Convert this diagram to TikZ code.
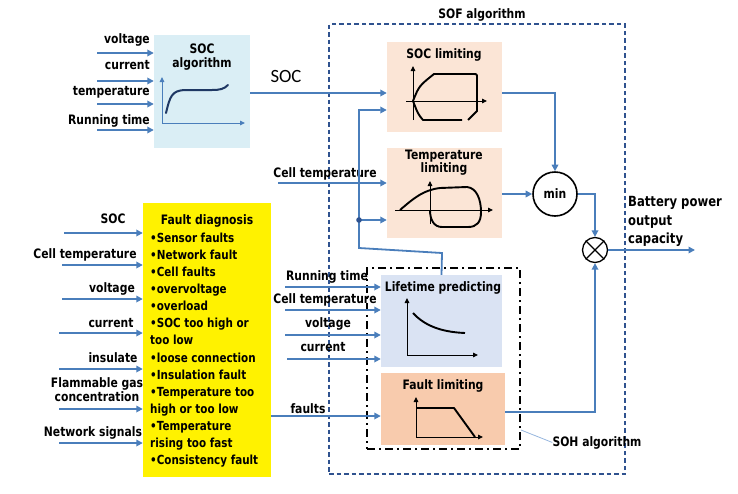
\documentclass[tikz,border=0pt]{standalone}
\usepackage{fontspec}
\setmainfont{DejaVu Sans}[FakeStretch=0.83]
\newfontfamily\calib{Carlito}
\usetikzlibrary{arrows.meta}
\definecolor{ablue}{RGB}{74,126,187}
\definecolor{sofblue}{RGB}{47,82,143}
\definecolor{socbox}{RGB}{218,238,245}
\definecolor{peach}{RGB}{251,229,214}
\definecolor{lifebox}{RGB}{218,227,243}
\definecolor{faultbox}{RGB}{248,203,173}
\definecolor{navy}{RGB}{31,56,100}
\definecolor{pointer}{RGB}{150,182,222}
\begin{document}
\begin{tikzpicture}[x=1pt,y=-1pt,
  lbl/.style={font=\bfseries\fontsize{13}{14}\selectfont, inner sep=0pt},
  fdl/.style={font=\bfseries\fontsize{12.5}{14}\selectfont, inner sep=0pt, anchor=base west},
  box/.style={inner sep=0pt, draw=none},
  arr/.style={draw=ablue, line width=1.8pt, -{Triangle[length=6.5pt,width=6.5pt]}},
  axb/.style={draw=ablue, line width=1pt, -{Triangle[length=5pt,width=4.5pt]}},
  axk/.style={draw=black, line width=0.9pt, -{Triangle[length=5pt,width=4.5pt]}},
  curvek/.style={draw=black, line width=1.9pt, line join=round},
]
\useasboundingbox (0,0) rectangle (738,493);

% ---------- boxes ----------
\node[box, fill=socbox, minimum width=96pt, minimum height=113pt] (socalg) at (202,91.5) {};
\node[box, fill=peach, minimum width=115pt, minimum height=90pt] (soclim) at (444.5,87) {};
\node[box, fill=peach, minimum width=115pt, minimum height=90pt] (templim) at (444.5,193) {};
\node[box, fill=lifebox, minimum width=121pt, minimum height=92pt] (life) at (441.5,321) {};
\node[box, fill=faultbox, minimum width=124pt, minimum height=72pt] (faultlim) at (443,409) {};
\node[box, fill=yellow, minimum width=128pt, minimum height=274pt] (fd) at (207,340) {};

\node[draw=sofblue, line width=1.5pt, dash pattern=on 4.5pt off 3pt, minimum width=296pt, minimum height=450pt, inner sep=0pt] (sof) at (477,249) {};
\node[draw=black, line width=1.8pt, dash pattern=on 8pt off 4pt on 2pt off 4pt, minimum width=153pt, minimum height=181pt, inner sep=0pt] (soh) at (443.5,358.5) {};

\node[circle, draw, line width=1.6pt, minimum size=44pt, inner sep=0pt, font=\bfseries\fontsize{13}{14}\selectfont] (min) at (555,194) {min};
\node[circle, draw, line width=1.3pt, minimum size=25pt, inner sep=0pt] (ot) at (595,250) {};
\draw[line width=1.1pt] (ot.north west) -- (ot.south east) (ot.north east) -- (ot.south west);

% ---------- titles ----------
\node[lbl, anchor=base] (t1a) at (202,53) {SOC};
\node[lbl, anchor=base] (t1b) at (202,67) {algorithm};
\node[lbl, anchor=base] (tsof) at (482,18) {SOF algorithm};
\node[lbl, anchor=base] (t2) at (444,58) {SOC limiting};
\node[lbl, anchor=base] (t3a) at (444,159) {Temperature};
\node[lbl, anchor=base] (t3b) at (444,172) {limiting};
\node[lbl, anchor=base] (t4) at (443,291) {Lifetime predicting};
\node[lbl, anchor=base] (t5) at (443,389) {Fault limiting};
\node[lbl, anchor=base] (tsoh) at (597,446) {SOH algorithm};
\node[inner sep=0pt, font=\calib\fontsize{18.7}{20}\selectfont] (socl) at (286,76) {SOC};
\node[font=\bfseries\fontsize{14}{16}\selectfont, inner sep=0pt, anchor=base west] (bat1) at (628,206) {Battery power};
\node[font=\bfseries\fontsize{14}{16}\selectfont, inner sep=0pt, anchor=base west] (bat2) at (628,225) {output};
\node[font=\bfseries\fontsize{14}{16}\selectfont, inner sep=0pt, anchor=base west] (bat3) at (628,243) {capacity};

% ---------- SOC algorithm inputs ----------
\node[lbl, anchor=base east] (a1) at (150,43) {voltage};
\node[lbl, anchor=base east] (a2) at (150,69) {current};
\node[lbl, anchor=base east] (a3) at (150,95) {temperature};
\node[lbl, anchor=base east] (a4) at (150,124) {Running time};
\coordinate (ia1) at (97,53);
\coordinate (ia2) at (97,81);
\coordinate (ia3) at (97,104);
\coordinate (ia4) at (97,130);
\foreach \c in {ia1,ia2,ia3,ia4} \draw[arr] (\c) -- (socalg.west |- \c);

% ---------- SOF connections ----------
\coordinate (socy) at (0,93);
\draw[arr] (socalg.east |- socy) -- (soclim.west |- socy);
\node[lbl, anchor=base] (ct1) at (325,177) {Cell temperature};
\coordinate (ict) at (278,183);
\draw[arr] (ict) -- (templim.west |- ict);

\coordinate (fb1) at (442,253);
\coordinate (fb2) at (359,248);
\coordinate (fbtop) at (359,110);
\coordinate (fbdot) at (359,220);
\draw[arr] (life.north) -- (fb1) -- (fb2) -- (fbtop) -- (soclim.west |- fbtop);
\draw[arr] (fbdot) -- (templim.west |- fbdot);
\fill[sofblue] (fbdot) circle (2.8pt);

\draw[arr] (soclim.east |- socy) -- (min.north |- socy) -- (min.north);
\draw[arr] (templim.east |- min.west) -- (min.west);
\draw[arr] (min.east) -- (ot.north |- min.east) -- (ot.north);
\coordinate (outp) at (695,250);
\draw[arr] (ot.east) -- (outp);
\coordinate (flo) at (0,412);
\draw[arr] (faultlim.east |- flo) -- (ot.south |- flo) -- (ot.south);

% ---------- Lifetime inputs ----------
\node[lbl, anchor=base] (b1) at (327,280) {Running time};
\node[lbl, anchor=base] (b2) at (325,303) {Cell temperature};
\node[lbl, anchor=base] (b3) at (328,327) {voltage};
\node[lbl, anchor=base] (b4) at (323,351) {current};
\coordinate (ib1) at (285,287);
\coordinate (ib2) at (285,310);
\coordinate (ib3) at (285,335);
\coordinate (ib4) at (287,359);
\foreach \c in {ib1,ib2,ib3,ib4} \draw[arr] (\c) -- (life.west |- \c);

% faults
\node[lbl, anchor=base] (flt) at (308,413) {faults};
\coordinate (fy) at (0,416);
\draw[arr] (fd.east |- fy) -- (faultlim.west |- fy);

% SOH pointer
\coordinate (sohp) at (521,430);
\draw[draw=pointer, line width=0.8pt] (sohp) -- (tsoh.west);

% ---------- Fault diagnosis ----------
\node[lbl, anchor=base] (fdt) at (207,224) {Fault diagnosis};
\foreach \t [count=\i] in {•Sensor faults, •Network fault, •Cell faults, •overvoltage, •overload, •SOC too high or, too low, •loose connection, •Insulation fault, •Temperature too, high or too low, •Temperature, rising too fast, •Consistency fault}
  \node[fdl] (fdl\i) at (150,{242+17.15*(\i-1)}) {\t};

\node[lbl, anchor=base] (c1) at (113,223) {SOC};
\node[lbl, anchor=base] (c2) at (85,258) {Cell temperature};
\node[lbl, anchor=base] (c3) at (112,292) {voltage};
\node[lbl, anchor=base] (c4) at (111,327) {current};
\node[lbl, anchor=base] (c5) at (113,362) {insulate};
\node[lbl, anchor=base] (c6a) at (97,387) {Flammable gas};
\node[lbl, anchor=base] (c6b) at (97,401) {concentration};
\node[lbl, anchor=base] (c7) at (93,436) {Network signals};
\coordinate (ic1) at (64,233);
\coordinate (ic2) at (62,265);
\coordinate (ic3) at (62,299);
\coordinate (ic4) at (59,333);
\coordinate (ic5) at (59,369);
\coordinate (ic6) at (59,409);
\coordinate (ic7) at (59,443);
\foreach \c in {ic1,ic2,ic3,ic4,ic5,ic6,ic7} \draw[arr] (\c) -- (fd.west |- \c);

% ---------- plots ----------
% SOC algorithm
\draw[axb] (162,123) -- (162,77);
\draw[axb] (162,123) -- (245,123);
\draw[draw=navy, line width=2pt, line cap=round] (166,113) .. controls (170,96) and (172,91) .. (184,90) -- (212,90) .. controls (220,90) and (224,89) .. (228,85);
% SOC limiting
\draw[axk] (413,120) -- (413,66);
\draw[axk] (406,101) -- (487,101);
\draw[curvek] (462,120) -- (423,120) .. controls (418,114) .. (413,101) .. controls (419,86) .. (434,74) -- (473,74) .. controls (477,74) .. (477,78) -- (477,111) -- (468,120);
% Temperature limiting
\draw[axk] (430,224) -- (430,181);
\draw[axk] (395,210) -- (493,210);
\draw[curvek] (400,210) .. controls (415,197) and (424,190) .. (440,188) -- (467,187) .. controls (477,188) and (481,200) .. (481,212) .. controls (481,222) and (477,227) .. (468,227) -- (442,227) .. controls (434,227) and (430,220) .. (430,210);
% Lifetime
\draw[axk] (407,355) -- (407,298);
\draw[axk] (407,355) -- (478,355);
\draw[curvek] (413,313) .. controls (424,325) and (440,332) .. (465,333);
% Fault limiting
\draw[axk] (416,437) -- (416,397);
\draw[axk] (416,437) -- (483,437);
\draw[curvek] (416,408) -- (454,408) -- (475,437);
\end{tikzpicture}
\end{document}
